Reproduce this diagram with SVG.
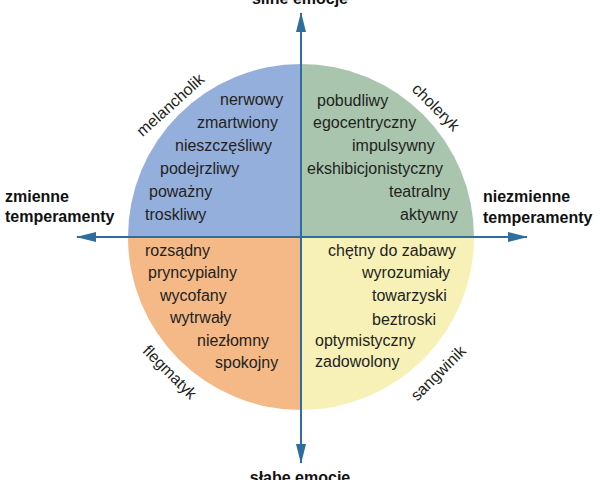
<svg xmlns="http://www.w3.org/2000/svg" width="600" height="480" viewBox="0 0 600 480">
<style>
.w{font-family:"Liberation Sans",Arial,sans-serif;font-size:16px;fill:#231f20}
.t{font-family:"Liberation Sans",Arial,sans-serif;font-size:16px;font-weight:bold;fill:#111}
.ax{stroke:#2f6e9c;stroke-width:2;fill:none}
</style>
<defs>
<marker id="ah" viewBox="0 0 20 10" refX="19" refY="5" markerWidth="20" markerHeight="10" markerUnits="userSpaceOnUse" orient="auto">
<path d="M0,0 L20,5 L0,10 Z" fill="#2f6e9c"/>
</marker>
</defs>
<rect width="600" height="480" fill="#fff"/>
<g id="melancholik">
<path d="M301,237 L128,237 A173,173 0 0 1 301,64 Z" fill="#95afdc"/>
<text class="w" text-anchor="middle" transform="translate(174,109) rotate(-42)">melancholik</text>
<text class="w" x="220" y="105">nerwowy</text>
<text class="w" x="197" y="128">zmartwiony</text>
<text class="w" x="175" y="151">nieszczęśliwy</text>
<text class="w" x="160" y="174">podejrzliwy</text>
<text class="w" x="149" y="197">poważny</text>
<text class="w" x="145" y="220">troskliwy</text>
</g>
<g id="choleryk">
<path d="M301,237 L301,64 A173,173 0 0 1 474,237 Z" fill="#a9c5ae"/>
<text class="w" text-anchor="middle" transform="translate(432,111) rotate(45)">choleryk</text>
<text class="w" x="317" y="106">pobudliwy</text>
<text class="w" x="313" y="128">egocentryczny</text>
<text class="w" x="352" y="151">impulsywny</text>
<text class="w" x="307" y="174">ekshibicjonistyczny</text>
<text class="w" x="389" y="197">teatralny</text>
<text class="w" x="400" y="220">aktywny</text>
</g>
<g id="flegmatyk">
<path d="M301,237 L301,410 A173,173 0 0 1 128,237 Z" fill="#f4b987"/>
<text class="w" text-anchor="middle" transform="translate(166,376) rotate(45)">flegmatyk</text>
<text class="w" x="145" y="256">rozsądny</text>
<text class="w" x="148" y="278">pryncypialny</text>
<text class="w" x="160" y="301">wycofany</text>
<text class="w" x="170" y="323">wytrwały</text>
<text class="w" x="197" y="346">niezłomny</text>
<text class="w" x="215" y="368">spokojny</text>
</g>
<g id="sangwinik">
<path d="M301,237 L474,237 A173,173 0 0 1 301,410 Z" fill="#f7f1b8"/>
<text class="w" text-anchor="middle" transform="translate(442,377) rotate(-45)">sangwinik</text>
<text class="w" x="328" y="256">chętny do zabawy</text>
<text class="w" x="362" y="278">wyrozumiały</text>
<text class="w" x="372" y="301">towarzyski</text>
<text class="w" x="372" y="325">beztroski</text>
<text class="w" x="315" y="346">optymistyczny</text>
<text class="w" x="315" y="367">zadowolony</text>
</g>
<g id="connectors">
<line class="ax" x1="301" y1="445" x2="301" y2="13" marker-end="url(#ah)"/>
<line class="ax" x1="301" y1="237" x2="301" y2="463" marker-end="url(#ah)"/>
<line class="ax" x1="301" y1="237" x2="77" y2="237" marker-end="url(#ah)"/>
<line class="ax" x1="301" y1="237" x2="527" y2="237" marker-end="url(#ah)"/>
</g>
<g id="silne">
<text class="t" x="300" y="4" text-anchor="middle">silne emocje</text>
</g>
<g id="slabe">
<text class="t" x="300" y="483" text-anchor="middle">słabe emocje</text>
</g>
<g id="zmienne">
<text class="t" x="5" y="202">zmienne</text>
<text class="t" x="5" y="222">temperamenty</text>
</g>
<g id="niezmienne">
<text class="t" x="483" y="202">niezmienne</text>
<text class="t" x="483" y="223">temperamenty</text>
</g>
</svg>
